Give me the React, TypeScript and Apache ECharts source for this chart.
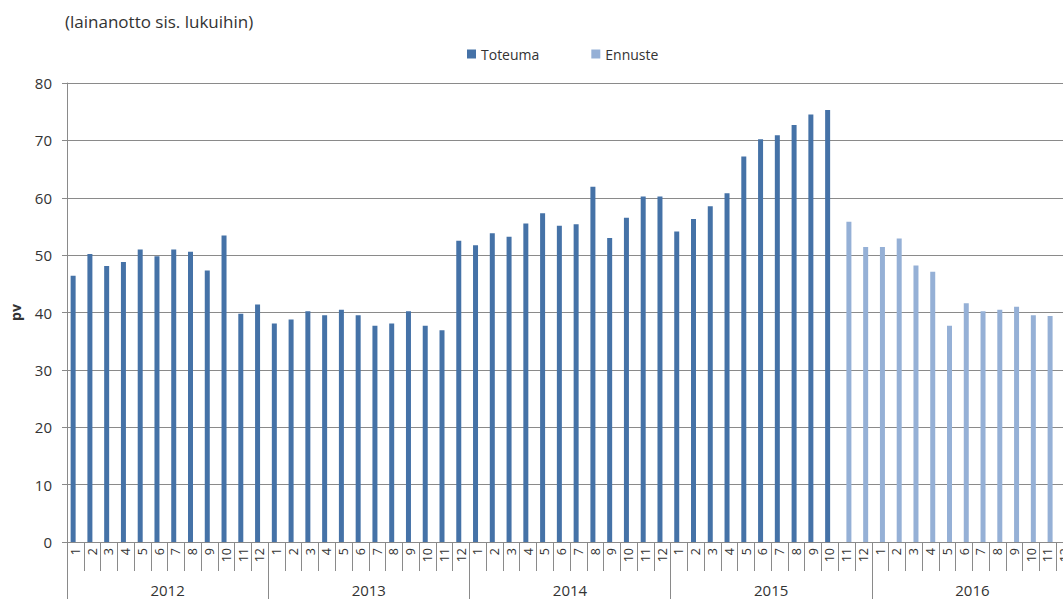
import React, { useEffect, useRef } from "react";
import * as echarts from "echarts";

const years = ["2012", "2013", "2014", "2015", "2016"];
const months = ["1", "2", "3", "4", "5", "6", "7", "8", "9", "10", "11", "12"];

// Toteuma (actual) 2012-1 .. 2015-10
const toteuma = [
  46.4, 50.2, 48.1, 48.8, 51.0, 49.8, 51.0, 50.6, 47.3, 53.4, 39.8, 41.4,
  38.1, 38.8, 40.2, 39.5, 40.5, 39.5, 37.7, 38.1, 40.2, 37.7, 36.9, 52.5,
  51.7, 53.8, 53.2, 55.5, 57.3, 55.1, 55.4, 61.9, 53.0, 56.5, 60.2, 60.2,
  54.1, 56.3, 58.5, 60.8, 67.2, 70.2, 70.9, 72.7, 74.5, 75.3,
];

// Ennuste (forecast) 2015-11 .. 2016-12
const ennuste = [
  55.8, 51.4,
  51.4, 52.9, 48.2, 47.1, 37.7, 41.6, 40.2, 40.5, 41.0, 39.5, 39.4, 39.0,
];

const FONT = "'Open Sans', sans-serif";
const TEXT = "#333333";
const LINE = "#8a8a8a";

export default function App() {
  const ref = useRef<HTMLDivElement>(null);

  useEffect(() => {
    if (!ref.current) return;
    const chart = echarts.init(ref.current, null, { renderer: "svg" });

    const cats: string[] = [];
    years.forEach(() => months.forEach((m) => cats.push(m)));
    const n = cats.length;
    const totData: (number | null)[] = [];
    const ennData: (number | null)[] = [];
    for (let i = 0; i < n; i++) {
      totData.push(i < toteuma.length ? toteuma[i] : null);
      const j = i - toteuma.length;
      ennData.push(j >= 0 && j < ennuste.length ? ennuste[j] : null);
    }

    chart.setOption({
      animation: false,
      textStyle: { fontFamily: FONT },
      graphic: [
        {
          type: "text",
          x: 65,
          y: 21,
          style: {
            text: "(lainanotto sis. lukuihin)",
            font: `17px ${FONT}`,
            fill: TEXT,
            textVerticalAlign: "middle",
            verticalAlign: "middle",
          },
        },
      ],
      legend: {
        left: 467,
        top: 47,
        padding: 0,
        itemWidth: 9,
        itemHeight: 9,
        itemGap: 52,
        icon: "rect",
        textStyle: { fontSize: 14, color: TEXT, fontFamily: FONT },
        data: ["Toteuma", "Ennuste"],
      },
      grid: { left: 62, top: 83, right: 27, bottom: 57, containLabel: false },
      xAxis: [
        {
          type: "category",
          data: cats,
          position: "bottom",
          boundaryGap: true,
          axisLine: { show: true, lineStyle: { color: LINE, width: 1 } },
          axisTick: {
            show: true,
            interval: 0,
            length: 29,
            lineStyle: { color: LINE, width: 1 },
          },
          axisLabel: {
            interval: 0,
            rotate: 90,
            margin: 6,
            fontSize: 12.5,
            color: TEXT,
            fontFamily: FONT,
          },
          splitLine: { show: false },
        },
        {
          type: "category",
          data: years,
          position: "bottom",
          boundaryGap: true,
          axisLine: { show: false },
          axisTick: {
            show: true,
            interval: 0,
            length: 57,
            lineStyle: { color: LINE, width: 1 },
          },
          axisLabel: {
            interval: 0,
            margin: 40,
            fontSize: 15,
            color: TEXT,
            fontFamily: FONT,
          },
          splitLine: { show: false },
        },
      ],
      yAxis: {
        type: "value",
        min: 0,
        max: 80,
        interval: 10,
        name: "pv",
        nameLocation: "middle",
        nameGap: 45,
        nameTextStyle: {
          fontSize: 14,
          fontWeight: "bold",
          color: TEXT,
          fontFamily: FONT,
        },
        axisLine: { show: true, lineStyle: { color: LINE, width: 1 } },
        axisTick: { show: true, length: 5, lineStyle: { color: LINE } },
        axisLabel: { fontSize: 15, color: TEXT, margin: 15, fontFamily: FONT },
        splitLine: { show: true, lineStyle: { color: LINE, width: 1 } },
      },
      series: [
        {
          name: "Toteuma",
          type: "bar",
          xAxisIndex: 0,
          data: totData,
          barWidth: 5,
          barGap: "-10%",
          itemStyle: { color: "#4572A7" },
        },
        {
          name: "Ennuste",
          type: "bar",
          xAxisIndex: 0,
          data: ennData,
          barWidth: 5,
          barGap: "-10%",
          itemStyle: { color: "#95B0D6" },
        },
      ],
    });

    return () => chart.dispose();
  }, []);

  return (
    <div
      style={{
        position: "fixed",
        left: 0,
        top: 0,
        width: 1063,
        height: 599,
        overflow: "hidden",
        background: "#ffffff",
      }}
    >
      <div ref={ref} style={{ width: 1100, height: 599 }} />
    </div>
  );
}
